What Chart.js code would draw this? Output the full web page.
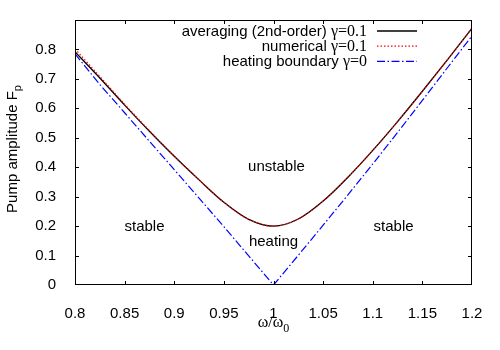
<!DOCTYPE html>
<html>
<head>
<meta charset="utf-8">
<script src="https://cdn.jsdelivr.net/npm/chart.js@4.4.1/dist/chart.umd.min.js"></script>
<style>
  html, body { margin: 0; padding: 0; background: #fff; }
  #c { display: block; }
</style>
</head>
<body>
<canvas id="c" width="500" height="350"></canvas>
<script>
const omega     = [0.8, 0.825, 0.85, 0.875, 0.9, 0.925, 0.95, 0.975, 1.0, 1.025, 1.05, 1.075, 1.1, 1.125, 1.15, 1.175, 1.2];
const averaging = [0.792, 0.703, 0.611, 0.522, 0.437, 0.357, 0.281, 0.223, 0.200, 0.224, 0.285, 0.366, 0.457, 0.555, 0.658, 0.764, 0.872];
const numerical = [0.802, 0.708, 0.614, 0.524, 0.438, 0.357, 0.281, 0.223, 0.200, 0.224, 0.285, 0.366, 0.457, 0.555, 0.658, 0.764, 0.872];
const heating   = [0.785, 0.681, 0.585, 0.488, 0.392, 0.295, 0.198, 0.099, 0.0, 0.101, 0.203, 0.306, 0.411, 0.518, 0.627, 0.737, 0.846];

const seriesNames = ["averaging (2nd-order) ", "numerical ", "heating boundary "];
const seriesGamma = ["\u03b3=0.1", "\u03b3=0.1", "\u03b3=0"];

const regionLabels = ["stable", "unstable", "heating", "stable"];
const regionOmega  = [0.87, 1.003, 1.0, 1.121];
const regionF      = [0.198, 0.4, 0.147, 0.198];

const SANS = '"Liberation Sans", Arial, sans-serif';
const SERIF = '"Liberation Serif", "Times New Roman", serif';

Chart.defaults.font.family = SANS;
Chart.defaults.color = "#000";

const pts = arr => omega.map((w, i) => ({ x: w, y: arr[i] }));

// gnuplot-like frame: inward ticks on all sides, text labels, key
const frame = {
  id: "frame",
  afterDatasetsDraw(chart) {
    const { ctx, chartArea: a, scales: { x, y } } = chart;
    ctx.save();
    ctx.strokeStyle = "#000";
    ctx.lineWidth = 1;
    ctx.setLineDash([]);
    ctx.beginPath();
    x.ticks.forEach(t => {
      const px = Math.round(x.getPixelForValue(t.value)) + 0.5;
      if (px < a.left + 2 || px > a.right - 2) return;
      ctx.moveTo(px, a.bottom); ctx.lineTo(px, a.bottom - 4);
      ctx.moveTo(px, a.top); ctx.lineTo(px, a.top + 4);
    });
    y.ticks.forEach(t => {
      const py = Math.round(y.getPixelForValue(t.value)) + 0.5;
      if (py < a.top + 2 || py > a.bottom - 2) return;
      ctx.moveTo(a.left, py); ctx.lineTo(a.left + 4, py);
      ctx.moveTo(a.right, py); ctx.lineTo(a.right - 4, py);
    });
    ctx.stroke();
    ctx.strokeRect(Math.round(a.left) + 0.5, Math.round(a.top) + 0.5,
                   Math.round(a.right - a.left) - 1, Math.round(a.bottom - a.top) - 1);

    // region labels
    ctx.fillStyle = "#000";
    ctx.font = "15px " + SANS;
    ctx.textAlign = "center";
    ctx.textBaseline = "middle";
    regionLabels.forEach((s, i) => {
      ctx.fillText(s, x.getPixelForValue(regionOmega[i]), y.getPixelForValue(regionF[i]));
    });

    // key, right aligned text with sample line
    const textRight = 367, lineL = 377, lineR = 417;
    ctx.textBaseline = "alphabetic";
    ctx.textAlign = "left";
    chart.data.datasets.forEach((ds, i) => {
      const ly = 31 + i * 15.2;
      const base = ly + 4.5;
      ctx.font = "16px " + SERIF;
      const gw = ctx.measureText(seriesGamma[i]).width;
      ctx.fillText(seriesGamma[i], textRight - gw, base);
      ctx.font = "15px " + SANS;
      const nw = ctx.measureText(seriesNames[i]).width;
      ctx.fillText(seriesNames[i], textRight - gw - nw, base);
      ctx.save();
      ctx.strokeStyle = ds.borderColor;
      ctx.lineWidth = ds.borderWidth;
      ctx.setLineDash(ds.borderDash || []);
      ctx.beginPath();
      ctx.moveTo(lineL, ly); ctx.lineTo(lineR, ly);
      ctx.stroke();
      ctx.restore();
    });

    // x title: omega/omega_0
    ctx.font = "16px " + SERIF;
    const t1 = "\u03c9/\u03c9";
    const w1 = ctx.measureText(t1).width;
    ctx.font = "12px " + SERIF;
    const w2 = ctx.measureText("0").width;
    const cx = (a.left + a.right) / 2;
    const x0 = cx - (w1 + w2) / 2;
    ctx.font = "16px " + SERIF;
    ctx.fillText(t1, x0, 326.5);
    ctx.font = "12px " + SERIF;
    ctx.fillText("0", x0 + w1, 331.5);

    // y title: Pump amplitude F_p
    ctx.translate(17, 149);
    ctx.rotate(-Math.PI / 2);
    ctx.font = "15px " + SANS;
    const y1 = "Pump amplitude F";
    const yw1 = ctx.measureText(y1).width;
    ctx.font = "11px " + SANS;
    const yw2 = ctx.measureText("p").width;
    const y0 = -(yw1 + yw2) / 2;
    ctx.font = "15px " + SANS;
    ctx.fillText(y1, y0, 0);
    ctx.font = "11px " + SANS;
    ctx.fillText("p", y0 + yw1, 4);
    ctx.restore();
  }
};

new Chart(document.getElementById("c"), {
  type: "line",
  data: {
    datasets: [
      {
        label: seriesNames[0] + seriesGamma[0],
        data: pts(averaging),
        borderColor: "#000000",
        borderWidth: 1.3,
        pointRadius: 0,
        cubicInterpolationMode: "monotone",
        order: 1
      },
      {
        label: seriesNames[1] + seriesGamma[1],
        data: pts(numerical),
        borderColor: "#ff0000",
        borderWidth: 1.2,
        borderDash: [1.5, 2],
        pointRadius: 0,
        cubicInterpolationMode: "monotone",
        order: 0
      },
      {
        label: seriesNames[2] + seriesGamma[2],
        data: pts(heating),
        borderColor: "#0000ff",
        borderWidth: 1.2,
        borderDash: [8, 2.5, 1.5, 2.5],
        pointRadius: 0,
        tension: 0,
        order: 2
      }
    ]
  },
  options: {
    responsive: false,
    animation: false,
    devicePixelRatio: 1,
    layout: { padding: { left: 0, right: 28, top: 18, bottom: 0 } },
    plugins: { legend: { display: false }, tooltip: { enabled: false } },
    scales: {
      x: {
        type: "linear",
        min: 0.8,
        max: 1.2,
        grid: { display: false },
        border: { display: false },
        ticks: {
          stepSize: 0.05,
          padding: 12,
          maxRotation: 0,
          autoSkip: false,
          font: { size: 15 },
          callback: v => String(+v.toFixed(2))
        },
        afterFit: s => { s.height = 65; }
      },
      y: {
        type: "linear",
        min: 0,
        max: 0.9,
        grid: { display: false },
        border: { display: false },
        ticks: {
          stepSize: 0.1,
          padding: 11,
          font: { size: 15 },
          callback: v => v > 0.85 ? "" : String(+v.toFixed(1))
        },
        afterFit: s => { s.height; s.width = 75; }
      }
    }
  },
  plugins: [frame]
});
</script>
</body>
</html>
